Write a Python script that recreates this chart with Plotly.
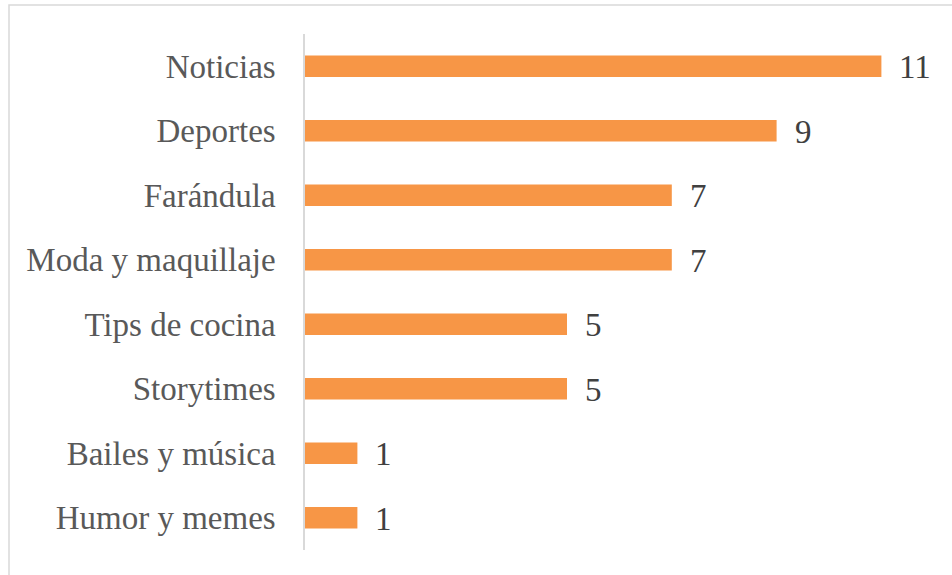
import plotly.graph_objects as go

categories = ["Noticias", "Deportes", "Farándula", "Moda y maquillaje",
              "Tips de cocina", "Storytimes", "Bailes y música", "Humor y memes"]
values = [11, 9, 7, 7, 5, 5, 1, 1]

W, H = 952, 575
ML, MR, MT, MB = 305, 0, 34, 25
pw = W - ML - MR
ph = H - MT - MB
xmax = pw / 52.4
FONT = "Liberation Serif"

fig = go.Figure()
fig.add_trace(go.Bar(
    y=categories, x=values, orientation="h",
    marker=dict(color="#F79646", line=dict(width=0)),
    width=0.33, hoverinfo="skip",
))

for c, v in zip(categories, values):
    fig.add_annotation(x=v, y=c, text=str(v), showarrow=False,
                       xanchor="left", yanchor="middle", xshift=16, yshift=-1,
                       font=dict(family=FONT, size=33, color="#404040"))

fig.add_shape(type="rect", xref="paper", yref="paper",
              x0=(9 - ML) / pw, x1=(W + 20 - ML) / pw,
              y0=-(H + 20 - (H - MB)) / ph, y1=1 + (MT - 5) / ph,
              line=dict(color="#D9D9D9", width=1.5), fillcolor="rgba(0,0,0,0)", layer="below")

fig.update_layout(
    width=W, height=H,
    margin=dict(l=ML, r=MR, t=MT, b=MB, pad=0),
    paper_bgcolor="white", plot_bgcolor="white",
    showlegend=False,
    xaxis=dict(range=[0, xmax], visible=False, fixedrange=True),
    yaxis=dict(categoryorder="array", categoryarray=categories[::-1],
               showline=True, linecolor="#D9D9D9", linewidth=1.5,
               showgrid=False, zeroline=False, ticks="", ticklabelstandoff=21,
               tickfont=dict(family=FONT, size=33, color="#595959"),
               range=[-0.5, 7.5], fixedrange=True),
)

fig.write_html("out.html", config={"displayModeBar": False},
               post_script="document.body.style.margin='0';document.body.style.overflow='hidden';")
